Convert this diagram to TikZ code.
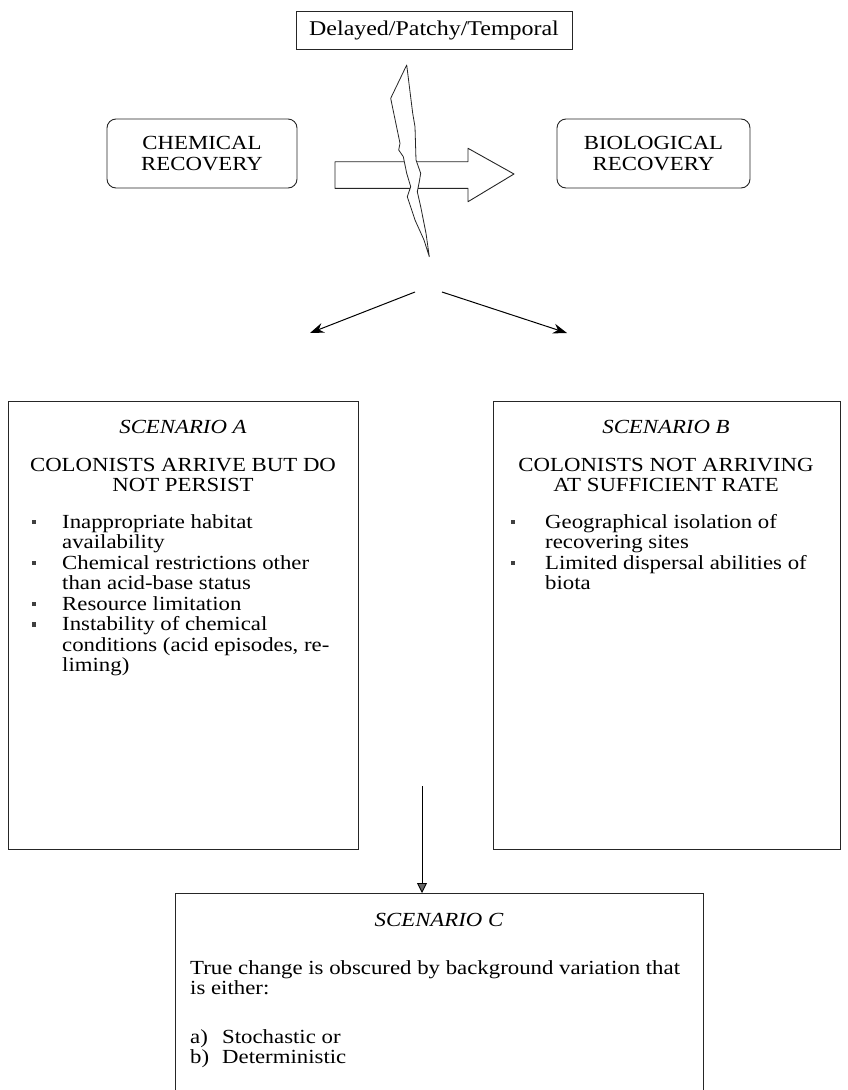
\documentclass[tikz,border=0pt]{standalone}
\usepackage{fontspec}
\setmainfont{Liberation Serif}[FakeStretch=1.14]
\usetikzlibrary{arrows.meta,positioning,calc}

\begin{document}
\begin{tikzpicture}[
    x=1pt, y=-1pt,
    every node/.style={font=\fontsize{20}{20.5}\selectfont},
    box/.style={rectangle, draw=black!85, line width=0.9pt, inner sep=0pt},
    rbox/.style={box, rounded corners=9pt, align=center},
    scn/.style={font=\fontsize{20}{20.5}\selectfont\itshape, anchor=base, inner sep=0pt},
    hd/.style={anchor=base, inner sep=0pt},
    txt/.style={anchor=base west, inner sep=0pt},
    mrk/.style={rectangle, fill=black!75, minimum size=4.5pt, inner sep=0pt},
    arr/.style={-{Stealth[length=14pt,width=10pt]}, line width=1pt},
    darr/.style={-{Triangle[length=10pt,width=10pt,fill=black!60]}, line width=0.9pt},
    blk/.style={draw=black!85, line width=0.9pt, fill=white, line join=round},
]

\useasboundingbox (0,0) rectangle (847,1090);
\clip (0,0) rectangle (847,1090);

% ── Top row ──
\node[box, minimum width=276pt, minimum height=38pt, font=\fontsize{21}{22}\selectfont] (delay) at (434,30) {Delayed/Patchy/Temporal};
\node[rbox, minimum width=190pt, minimum height=69pt] (chem) at (202,153.5) {CHEMICAL\\RECOVERY};
\node[rbox, minimum width=193pt, minimum height=69pt] (bio) at (653.5,153.5) {BIOLOGICAL\\RECOVERY};

% block arrow
\draw[blk] (335,161.7) -- (468,161.7) -- (468,148.3) -- (514,174) -- (468,201.7) -- (468,188.3) -- (335,188.3) -- cycle;

% bolt
\draw[blk, line width=0.8pt] (406.7,65) -- (390.7,98.3) -- (391.7,103.3) -- (400,143.3) -- (398.7,150)
  -- (403.3,156.7) -- (406.7,173.3) -- (410.7,186.7) -- (407.3,196.7) -- (415,220) -- (424,240)
  -- (429.3,256.7) -- (426,233.3) -- (420.7,206.7) -- (417.3,191.7) -- (419.3,181.7)
  -- (420.7,173.3) -- (416,160) -- (415,126.7) -- (412.7,113.3) -- cycle;

% ── Fork ──
\coordinate (forkL) at (415,292);
\coordinate (forkR) at (442,292);
\coordinate (tipL) at (310,333);
\coordinate (tipR) at (567,333);
\draw[arr] (forkL) -- (tipL);
\draw[arr] (forkR) -- (tipR);

% ── Scenario A ──
\node[box, minimum width=350pt, minimum height=448pt] (scA) at (183,625) {};
\node[scn] (scAt) at (183,433) {SCENARIO A};
\node[hd] (scAh1) at (183,471) {COLONISTS ARRIVE BUT DO};
\node[hd] (scAh2) at (183,491.5) {NOT PERSIST};
\foreach \t [count=\i from 0] in {Inappropriate habitat, availability,
    Chemical restrictions other, than acid-base status, Resource limitation,
    Instability of chemical, {conditions (acid episodes, re-}, liming)}
  \node[txt] (a\i) at (62,528+20.5*\i) {\t};
\foreach \i in {0,2,4,5}
  \node[mrk] (am\i) at (34,522+20.5*\i) {};

% ── Scenario B ──
\node[box, minimum width=347pt, minimum height=448pt] (scB) at (666.5,625) {};
\node[scn] (scBt) at (666,433) {SCENARIO B};
\node[hd] (scBh1) at (666,471) {COLONISTS NOT ARRIVING};
\node[hd] (scBh2) at (666,491.5) {AT SUFFICIENT RATE};
\foreach \t [count=\i from 0] in {Geographical isolation of, recovering sites,
    Limited dispersal abilities of, biota}
  \node[txt] (b\i) at (545,528+20.5*\i) {\t};
\foreach \i in {0,2}
  \node[mrk] (bm\i) at (513,522+20.5*\i) {};

% ── Scenario C ──
\node[box, minimum width=528pt, minimum height=240pt, anchor=north] (scC) at (439,893) {};
\coordinate (drop) at (422,786);
\draw[darr] (drop) -- (drop |- scC.north);
\node[scn] (scCt) at (439,926) {SCENARIO C};
\node[txt] (c0) at (190,974) {True change is obscured by background variation that};
\node[txt] (c1) at (190,994.5) {is either:};
\node[txt] (ca) at (190,1043) {a)};
\node[txt] (cb) at (190,1063.5) {b)};
\node[txt] (ca2) at (222,1043) {Stochastic or};
\node[txt] (cb2) at (222,1063.5) {Deterministic};

\end{tikzpicture}
\end{document}
